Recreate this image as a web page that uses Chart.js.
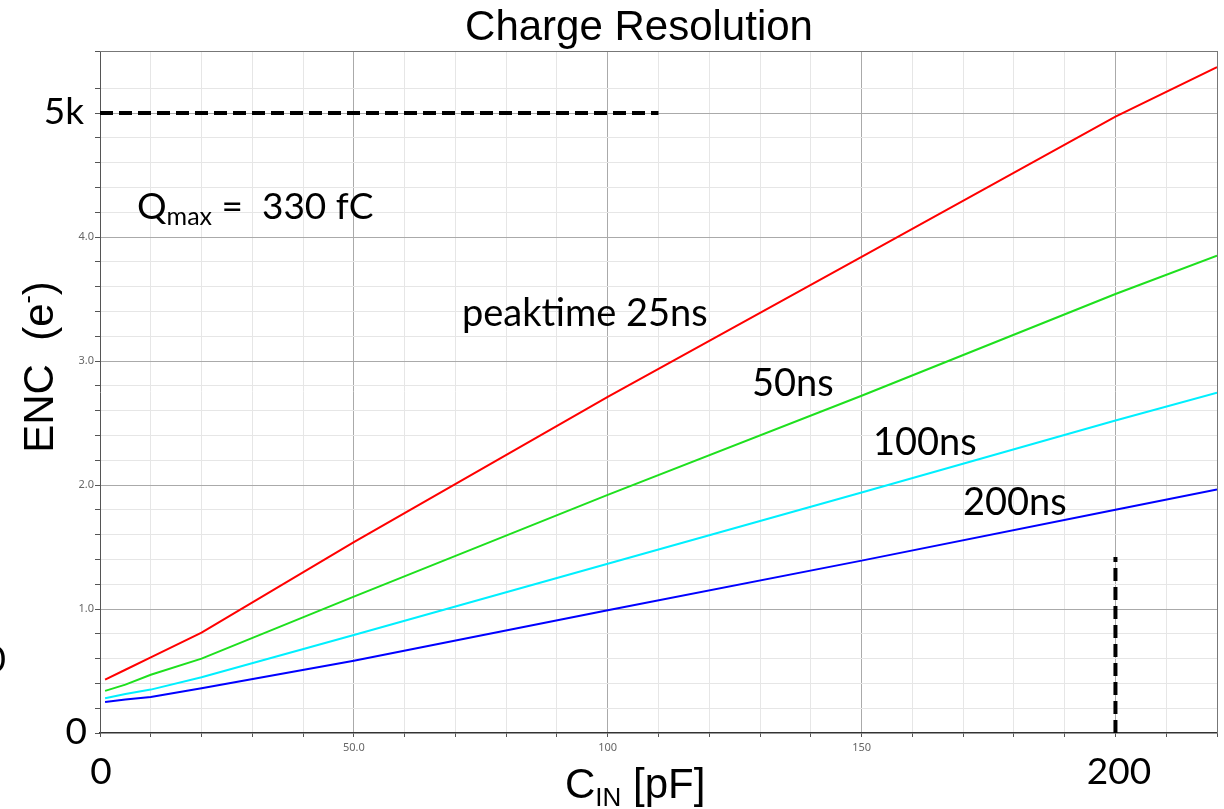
<!DOCTYPE html>
<html>
<head>
<meta charset="utf-8">
<script src="https://cdn.jsdelivr.net/npm/chart.js@4.4.0/dist/chart.umd.min.js"></script>
<style>
  html, body { margin: 0; padding: 0; background: #fff; }
  #wrap { width: 1224px; height: 809px; }
</style>
</head>
<body>
<div id="wrap"><canvas id="encChart" width="1224" height="809"></canvas></div>
<script>
// input capacitance (pF) and ENC (thousands of electrons) per peaking time
const capacitance = [1, 5, 10, 20, 50, 100, 150, 200, 220];
const enc25ns  = [0.43, 0.51, 0.61, 0.81, 1.54, 2.71, 3.84, 4.97, 5.37];
const enc50ns  = [0.34, 0.39, 0.47, 0.60, 1.10, 1.92, 2.72, 3.54, 3.85];
const enc100ns = [0.28, 0.315, 0.35, 0.45, 0.79, 1.365, 1.94, 2.52, 2.745];
const enc200ns = [0.25, 0.27, 0.29, 0.36, 0.583, 0.99, 1.39, 1.80, 1.963];

// dashed reference lines
const limitX = [0, 110];
const limitY = [5, 5];
const capLineX = [200, 200];
const capLineY = [0, 1.42];

const xTickLabels = { 50: '50.0', 100: '100', 150: '150' };
const yTickLabels = { 1: '1.0', 2: '2.0', 3: '3.0', 4: '4.0' };

const toPoints = (xs, ys) => xs.map((x, i) => ({ x: x, y: ys[i] }));
const isWhole = (v, step) => Math.abs(v / step - Math.round(v / step)) < 1e-6;

function curve(label, ys, color) {
    return {
        label: label,
        data: toPoints(capacitance, ys),
        borderColor: color,
        borderWidth: 2,
        pointRadius: 0,
        tension: 0,
        fill: false
    };
}

function dashed(xs, ys) {
    return {
        data: toPoints(xs, ys),
        borderColor: '#000',
        borderWidth: 4,
        borderDash: [13, 6],
        pointRadius: 0,
        fill: false
    };
}

const annotations = {
    id: 'annotations',
    afterDraw(chart) {
        const ctx = chart.ctx;
        const { left, right, top, bottom } = chart.chartArea;
        ctx.save();
        ctx.fillStyle = '#000';
        ctx.textBaseline = 'alphabetic';

        // frame top / right
        ctx.strokeStyle = '#777';
        ctx.lineWidth = 1;
        ctx.beginPath();
        ctx.moveTo(left, top + 0.5);
        ctx.lineTo(right + 0.5, top + 0.5);
        ctx.lineTo(right + 0.5, bottom);
        ctx.stroke();

        // title
        ctx.font = '42px "Liberation Sans", Arial, sans-serif';
        ctx.textAlign = 'center';
        ctx.fillText('Charge Resolution', 639, 40);

        // y axis title, rotated
        ctx.save();
        ctx.translate(53, 367);
        ctx.rotate(-Math.PI / 2);
        ctx.font = '42px "Liberation Sans", Arial, sans-serif';
        const main = 'ENC  (e';
        const wMain = ctx.measureText(main).width;
        ctx.font = '25px "Liberation Sans", Arial, sans-serif';
        const wSup = ctx.measureText('-').width;
        ctx.font = '42px "Liberation Sans", Arial, sans-serif';
        const wEnd = ctx.measureText(')').width;
        let sx = -(wMain + wSup + wEnd) / 2;
        ctx.textAlign = 'left';
        ctx.fillText(main, sx, 0);
        sx += wMain;
        ctx.font = '25px "Liberation Sans", Arial, sans-serif';
        ctx.fillText('-', sx, -17);
        sx += wSup;
        ctx.font = '42px "Liberation Sans", Arial, sans-serif';
        ctx.fillText(')', sx, 0);
        ctx.restore();

        // x axis title
        ctx.textAlign = 'left';
        let px = 565;
        ctx.font = '42px "Liberation Sans", Arial, sans-serif';
        ctx.fillText('C', px, 798);
        px += ctx.measureText('C').width;
        ctx.font = '26px "Liberation Sans", Arial, sans-serif';
        ctx.fillText('IN', px, 806);
        px += ctx.measureText('IN').width;
        ctx.font = '42px "Liberation Sans", Arial, sans-serif';
        ctx.fillText(' [pF]', px, 798);

        // Qmax note
        px = 137;
        ctx.font = '37px Lato, "Open Sans", sans-serif';
        ctx.fillText('Q', px, 219);
        px += ctx.measureText('Q').width;
        ctx.font = '25px Lato, "Open Sans", sans-serif';
        ctx.fillText('max', px, 225);
        px += ctx.measureText('max').width;
        ctx.font = '37px Lato, "Open Sans", sans-serif';
        ctx.fillText(' =  330 fC', px, 219);

        // curve labels
        ctx.font = '38px Lato, "Open Sans", sans-serif';
        ctx.fillText('peaktime 25ns', 462, 326);
        ctx.fillText('50ns', 752, 396);
        ctx.fillText('100ns', 873, 455);
        ctx.fillText('200ns', 963, 515);

        // big axis values
        ctx.font = '37px Lato, "Open Sans", sans-serif';
        ctx.textAlign = 'right';
        ctx.fillText('5k', 84, 124);
        ctx.fillText('0', 87, 744);
        ctx.fillText('0', 6, 672);
        ctx.textAlign = 'center';
        ctx.fillText('0', 101, 784);
        ctx.fillText('200', 1119, 784);
        ctx.restore();
    }
};

new Chart(document.getElementById('encChart'), {
    type: 'line',
    data: {
        datasets: [
            curve('25ns', enc25ns, '#ff0000'),
            curve('50ns', enc50ns, '#1ee01e'),
            curve('100ns', enc100ns, '#00f0ff'),
            curve('200ns', enc200ns, '#0000ff'),
            dashed(limitX, limitY),
            dashed(capLineX, capLineY)
        ]
    },
    options: {
        responsive: false,
        devicePixelRatio: 1,
        animation: false,
        layout: { padding: { left: 0, top: 51, right: 7, bottom: 0 } },
        plugins: {
            legend: { display: false },
            title: { display: false },
            tooltip: { enabled: false }
        },
        scales: {
            x: {
                type: 'linear',
                min: 0,
                max: 220,
                afterFit: (scale) => { scale.height = 76; },
                border: { color: '#333', width: 1.5 },
                grid: {
                    color: (c) => {
                        const v = c.tick.value;
                        if (v === 0) return 'rgba(0,0,0,0)';
                        if (v === 220) return '#777';
                        return isWhole(v, 50) ? '#aaa' : '#e6e6e6';
                    },
                    tickColor: '#555',
                    tickLength: 4
                },
                ticks: {
                    stepSize: 10,
                    autoSkip: false,
                    maxRotation: 0,
                    padding: 4,
                    color: '#666',
                    font: { family: '"Noto Sans", sans-serif', size: 11 },
                    callback: (v) => xTickLabels[v] || ''
                }
            },
            y: {
                type: 'linear',
                min: 0,
                max: 5.5,
                afterFit: (scale) => { scale.width = 100; },
                border: { color: '#555', width: 1 },
                grid: {
                    color: (c) => {
                        const v = c.tick.value;
                        if (v === 0) return 'rgba(0,0,0,0)';
                        if (isWhole(v, 5.5)) return '#777';
                        return isWhole(v, 1) ? '#aaa' : '#e6e6e6';
                    },
                    tickColor: '#555',
                    tickLength: 5
                },
                ticks: {
                    stepSize: 0.2,
                    autoSkip: false,
                    padding: 1,
                    color: '#666',
                    font: { family: '"Noto Sans", sans-serif', size: 11 },
                    callback: (v) => {
                        const r = Math.round(v);
                        return (isWhole(v, 1) && yTickLabels[r]) ? yTickLabels[r] : '';
                    }
                }
            }
        }
    },
    plugins: [annotations]
});
</script>
</body>
</html>
